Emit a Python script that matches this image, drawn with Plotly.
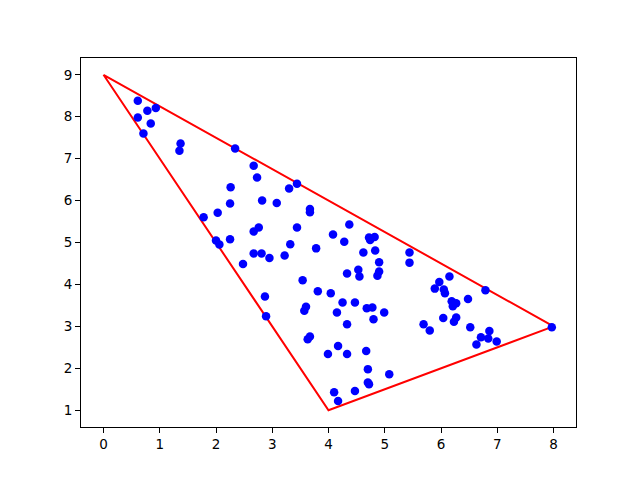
import plotly.graph_objects as go

# Hull polygon (closed)
hull_x = [0, 4, 8, 0]
hull_y = [9, 1, 3, 9]

# Scatter points
pts_x = [0.61, 0.78, 0.93, 0.61, 0.84, 0.71, 1.37, 1.35, 2.34, 2.67, 2.73, 2.26, 3.30, 3.44,
         2.25, 2.82, 3.08, 1.78, 2.03, 2.67, 2.76, 3.44, 3.67, 3.67, 4.37, 4.08, 4.28,
         4.72, 4.82, 4.74, 2.00, 2.06, 2.25, 3.32, 3.78, 4.62, 4.83, 2.67, 2.81, 2.95,
         3.22, 2.48, 4.90, 5.44, 5.44, 4.53, 4.55, 4.33, 4.90, 4.87, 3.54, 3.81, 4.04,
         2.87, 4.25, 4.47, 3.60, 3.57, 4.68, 4.78, 4.99, 4.15, 4.80, 2.89, 4.33, 3.63,
         3.67, 4.17, 3.99, 4.33, 4.67, 4.70, 5.08, 4.70, 4.72, 4.10, 4.47, 4.17,
         6.15, 5.97, 5.89, 6.05, 6.07, 6.19, 6.27, 6.21, 6.48, 5.69, 5.80, 6.04, 6.23,
         6.27, 6.52, 6.79, 6.86, 6.71, 6.84, 6.63, 6.99, 7.97]
pts_y = [8.38, 8.14, 8.21, 7.98, 7.84, 7.60, 7.36, 7.19, 7.24, 6.83, 6.55, 6.32, 6.29, 6.40,
         5.93, 6.00, 5.94, 5.60, 5.71, 5.26, 5.36, 5.36, 5.80, 5.72, 5.43, 5.19, 5.02,
         5.12, 5.13, 5.06, 5.05, 4.95, 5.08, 4.96, 4.86, 4.76, 4.81, 4.74, 4.74, 4.63,
         4.69, 4.49, 4.53, 4.76, 4.52, 4.35, 4.19, 4.26, 4.31, 4.21, 4.10, 3.84, 3.79,
         3.71, 3.57, 3.57, 3.47, 3.37, 3.43, 3.45, 3.33, 3.33, 3.17, 3.24, 3.05, 2.69,
         2.76, 2.53, 2.34, 2.34, 2.41, 1.98, 1.86, 1.66, 1.62, 1.43, 1.46, 1.22,
         4.19, 4.06, 3.90, 3.88, 3.79, 3.60, 3.55, 3.48, 3.65, 3.05, 2.90, 3.20, 3.11,
         3.21, 2.98, 3.86, 2.89, 2.74, 2.71, 2.57, 2.64, 2.98]

fig = go.Figure()
fig.add_trace(go.Scatter(x=hull_x, y=hull_y, mode="lines",
                         line=dict(color="red", width=2), hoverinfo="skip"))
fig.add_trace(go.Scatter(x=pts_x, y=pts_y, mode="markers",
                         marker=dict(color="blue", size=8.5, line=dict(width=0))))

axis_common = dict(showline=True, linecolor="black", linewidth=1, mirror=True,
                   ticks="outside", ticklen=5, tickwidth=1, tickcolor="black",
                   showgrid=False, zeroline=False,
                   tickfont=dict(family="DejaVu Sans", size=13.5, color="black"))

fig.update_layout(
    width=640, height=480,
    margin=dict(l=81, r=64, t=58, b=53),
    paper_bgcolor="white", plot_bgcolor="white",
    showlegend=False,
    xaxis=dict(range=[-0.4, 8.4], tickmode="array", tickvals=list(range(0, 9)), **axis_common),
    yaxis=dict(range=[0.6, 9.4], tickmode="array", tickvals=list(range(1, 10)), **axis_common),
)

fig.write_html("out.html", config={"displayModeBar": False},
               post_script="document.body.style.margin='0px';")
